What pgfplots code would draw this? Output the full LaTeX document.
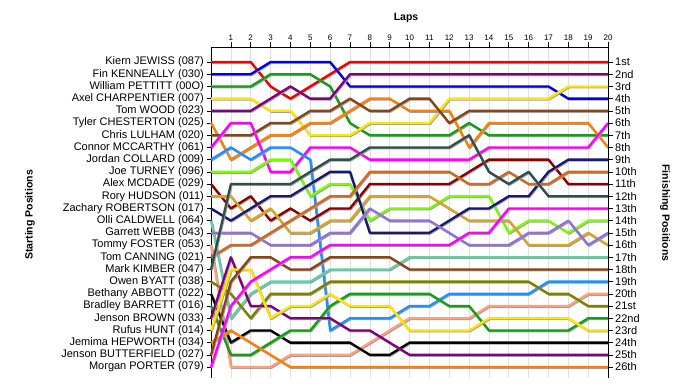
\documentclass[border=0pt]{standalone}
\usepackage{fontspec}
\setmainfont{Liberation Sans}
\usepackage{pgfplots}
\usepackage{pgfplotstable}
\pgfplotsset{compat=1.18}
\definecolor{col1}{RGB}{240,0,0}
\definecolor{col2}{RGB}{0,0,230}
\definecolor{col3}{RGB}{20,160,20}
\definecolor{col4}{RGB}{255,230,0}
\definecolor{col5}{RGB}{128,0,128}
\definecolor{col6}{RGB}{255,128,0}
\definecolor{col7}{RGB}{139,69,19}
\definecolor{col8}{RGB}{255,0,255}
\definecolor{col9}{RGB}{30,144,255}
\definecolor{col10}{RGB}{124,252,0}
\definecolor{col11}{RGB}{139,0,0}
\definecolor{col12}{RGB}{218,165,32}
\definecolor{col13}{RGB}{25,25,112}
\definecolor{col14}{RGB}{102,205,170}
\definecolor{col15}{RGB}{147,112,219}
\definecolor{col16}{RGB}{255,160,122}
\definecolor{col17}{RGB}{210,105,30}
\definecolor{col18}{RGB}{47,79,79}
\definecolor{col19}{RGB}{128,128,0}
\definecolor{col20}{RGB}{0,0,0}
\definecolor{col21}{RGB}{20,160,20}
\definecolor{col22}{RGB}{128,0,128}
\definecolor{col23}{RGB}{255,230,0}
\definecolor{col24}{RGB}{255,128,0}
\definecolor{col25}{RGB}{139,69,19}
\definecolor{col26}{RGB}{255,0,255}
\pgfplotstableread{
lap s1 s2 s3 s4 s5 s6 s7 s8 s9 s10 s11 s12 s13 s14 s15 s16 s17 s18 s19 s20 s21 s22 s23 s24 s25 s26
0 1 2 3 4 5 6 7 8 9 10 11 12 13 14 15 16 17 18 19 20 21 22 23 24 25 26
1 1 2 3 4 5 9 7 6 8 10 13 12 14 22 15 26 16 11 20 24 25 17 18 23 19 21
2 1 2 3 4 5 8 7 6 9 10 12 14 13 20 15 26 16 11 22 23 25 21 18 24 17 19
3 3 1 2 5 4 7 6 10 8 9 14 13 12 19 16 26 15 11 20 23 24 21 22 25 17 18
4 4 1 2 5 3 7 6 10 8 9 13 15 12 19 16 25 14 11 20 24 23 22 21 26 18 17
5 3 1 2 7 4 6 5 8 9 12 14 15 11 19 16 25 13 10 20 24 23 22 21 26 18 17
6 2 1 3 7 4 6 5 8 23 11 13 14 10 18 15 25 12 9 19 24 21 22 20 26 17 16
7 1 3 6 7 2 5 4 8 22 11 13 14 10 18 15 25 12 9 19 24 20 23 21 26 17 16
8 1 3 7 6 2 4 5 9 22 14 11 12 15 18 13 24 10 8 19 25 20 23 21 26 17 16
9 1 3 7 6 2 4 5 9 22 13 11 12 15 18 14 23 10 8 19 25 20 24 21 26 17 16
10 1 3 7 6 2 5 4 9 21 13 11 12 15 17 14 22 10 8 19 24 20 25 23 26 18 16
11 1 3 7 6 2 5 4 9 21 13 11 12 15 17 14 22 10 8 19 24 20 25 23 26 18 16
12 1 3 7 4 2 5 6 9 20 12 11 13 14 17 15 22 10 8 19 24 21 25 23 26 18 16
13 1 3 6 4 2 8 5 9 20 12 10 14 13 17 16 22 11 7 19 24 21 25 23 26 18 15
14 1 3 7 4 2 6 5 8 20 12 9 14 13 17 16 21 11 10 19 24 23 25 22 26 18 15
15 1 3 7 4 2 6 5 8 20 15 9 14 12 17 16 21 10 11 19 24 23 25 22 26 18 13
16 1 3 7 4 2 6 5 8 20 14 9 16 12 17 15 21 11 10 19 24 23 25 22 26 18 13
17 1 3 7 4 2 6 5 8 19 14 9 16 10 17 15 21 11 12 20 24 23 25 22 26 18 13
18 1 4 7 3 2 6 5 8 19 15 11 16 9 17 14 21 10 12 20 24 23 25 22 26 18 13
19 1 4 7 3 2 6 5 8 19 14 11 15 9 17 16 20 10 12 21 24 22 25 23 26 18 13
20 1 4 7 3 2 8 5 6 19 14 11 16 9 17 15 20 10 12 21 24 22 25 23 26 18 13
}\laps
\begin{document}
\begin{tikzpicture}
\path[use as bounding box] (0pt,0pt) rectangle (700pt,390pt);
\begin{axis}[
  at={(409.5pt,177.5pt)}, anchor=center,
  width=397pt, height=331pt, scale only axis,
  xmin=0, xmax=20, ymin=-0.23, ymax=26.9, y dir=reverse,
  axis x line*=top, axis y line*=left,
  axis line style={-, black, line width=0.8pt},
  xtick={1,...,20}, ytick={1,...,26},
  yticklabels={Kiern JEWISS (087),Fin KENNEALLY (030),William PETTITT (00O),Axel CHARPENTIER (007),Tom WOOD (023),Tyler CHESTERTON (025),Chris LULHAM (020),Connor MCCARTHY (061),Jordan COLLARD (009),Joe TURNEY (096),Alex MCDADE (029),Rory HUDSON (011),Zachary ROBERTSON (017),Olli CALDWELL (064),Garrett WEBB (043),Tommy FOSTER (053),Tom CANNING (021),Mark KIMBER (047),Owen BYATT (038),Bethany ABBOTT (022),Bradley BARRETT (016),Jenson BROWN (033),Rufus HUNT (014),Jemima HEPWORTH (034),Jenson BUTTERFIELD (027),Morgan PORTER (079)},
  tick align=outside, major tick length=4.5pt,
  tick style={black, line width=0.6pt},
  xmajorgrids, grid style={black!12, line width=0.6pt},
  xticklabel style={font=\fontsize{8}{9}\selectfont, inner sep=1.5pt},
  yticklabel style={font=\fontsize{11}{12}\selectfont, inner sep=2.5pt},
  /pgf/number format/assume math mode=true,
  clip=false,
  every axis plot/.style={line width=2.3pt, line join=round,
     preaction={draw=black!38, line width=2.3pt, transform canvas={xshift=0.8pt,yshift=-0.8pt}}},
]
\pgfplotsinvokeforeach{1,...,26}{
  \addplot[col#1] table[x=lap,y=s#1]{\laps};
}
\end{axis}
\begin{axis}[
  at={(409.5pt,177.5pt)}, anchor=center,
  width=397pt, height=331pt, scale only axis,
  xmin=0, xmax=20, ymin=-0.23, ymax=26.9, y dir=reverse,
  axis y line*=right, hide x axis,
  axis line style={-, black, line width=0.8pt},
  ytick={1,...,26},
  yticklabels={1st,2nd,3rd,4th,5th,6th,7th,8th,9th,10th,11th,12th,13th,14th,15th,16th,17th,18th,19th,20th,21st,22nd,23rd,24th,25th,26th},
  tick align=outside, major tick length=4.5pt,
  tick style={black, line width=0.6pt},
  yticklabel style={font=\fontsize{11}{12}\selectfont, inner sep=2.5pt},
]
\addplot[draw=none] coordinates {(0,1)};
\end{axis}
\node[font=\bfseries\fontsize{10.5}{12}\selectfont] at (406pt,372pt) {Laps};
\node[font=\bfseries\fontsize{10.5}{12}\selectfont, rotate=90] at (30pt,175pt) {Starting Positions};
\node[font=\bfseries\fontsize{10.5}{12}\selectfont, rotate=-90] at (665pt,177pt) {Finishing Positions};
\end{tikzpicture}
\end{document}
